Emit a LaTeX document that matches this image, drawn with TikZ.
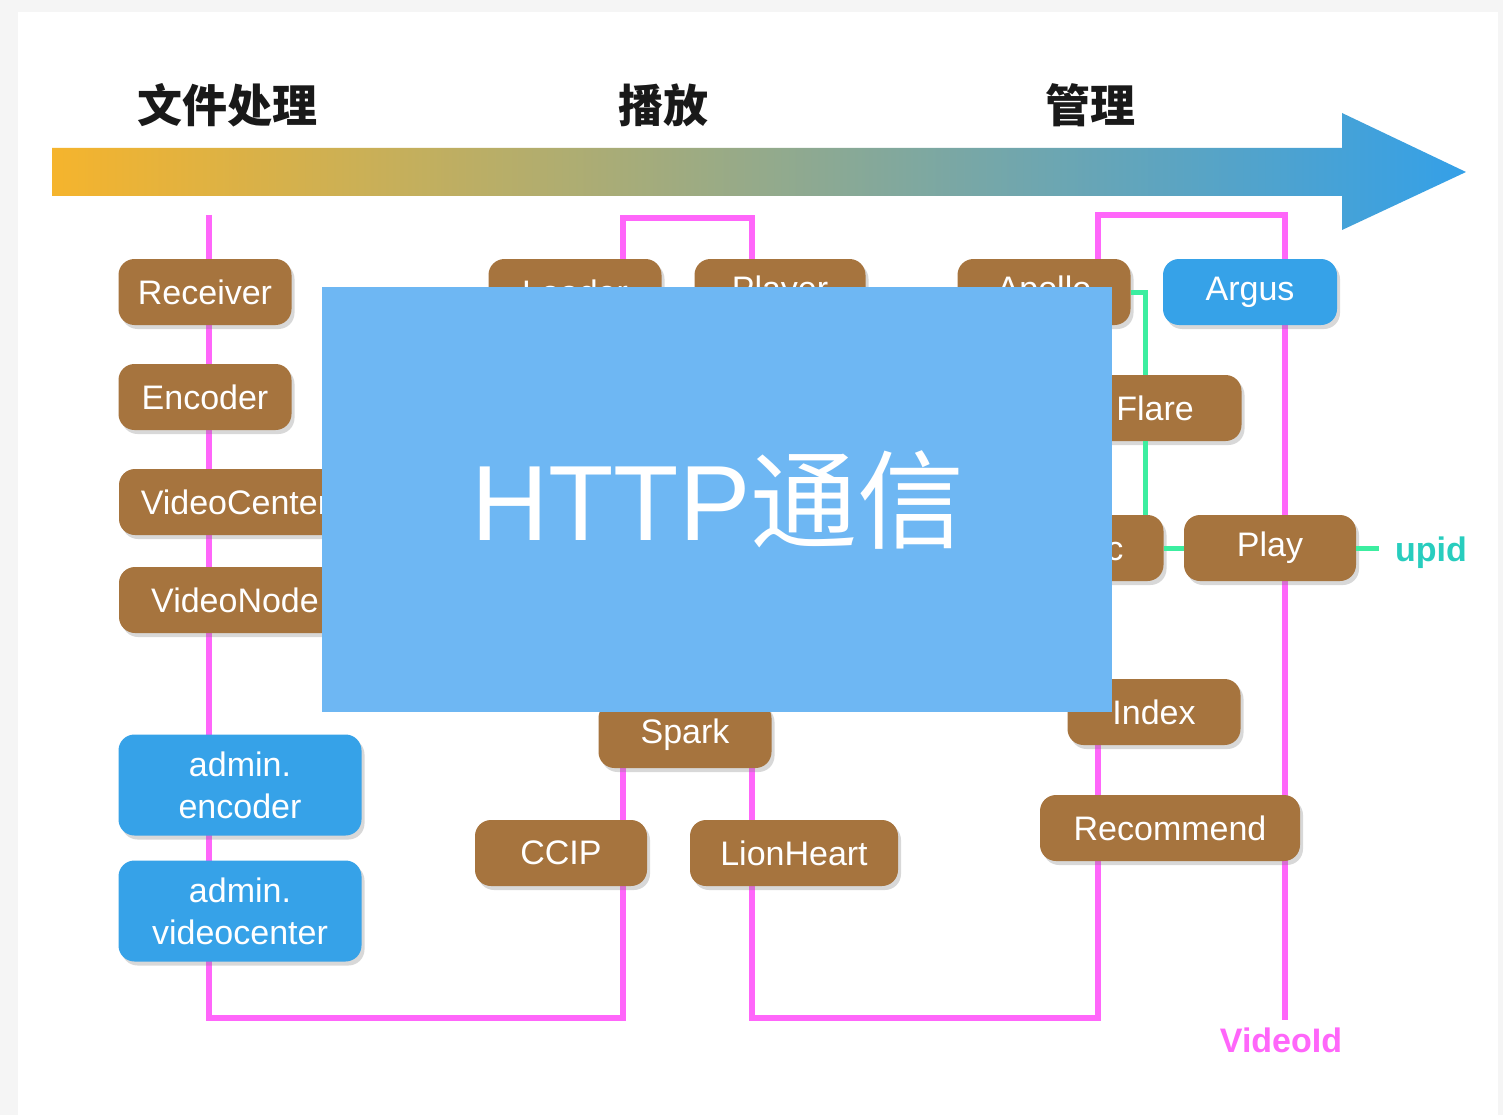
\documentclass[tikz,border=0pt]{standalone}
\usepackage{fontspec}
\setmainfont{Liberation Sans}
\newfontfamily\cjk{Noto Sans CJK SC}
\usetikzlibrary{shadows}
\begin{document}
\begin{tikzpicture}[x=1pt,y=-1pt,
  box/.style={fill=boxbrown, text=white, rounded corners=16pt, minimum height=66pt, inner sep=0pt, align=center, font=\fontsize{34}{42}\selectfont, drop shadow={shadow xshift=3pt, shadow yshift=-4pt, opacity=0.3}},
  bluebox/.style={box, fill=boxblue},
  vline/.style={draw=vidpink, line width=6pt},
  uline/.style={draw=upgreen, line width=5pt},
  title/.style={font=\cjk\bfseries\fontsize{45}{50}\selectfont, text=black!90}]
\definecolor{boxbrown}{RGB}{166,116,62}
\definecolor{boxblue}{RGB}{54,162,232}
\definecolor{ovblue}{RGB}{110,183,243}
\definecolor{vidpink}{RGB}{255,102,250}
\definecolor{upgreen}{RGB}{60,238,160}
\definecolor{upteal}{RGB}{40,205,190}
\definecolor{arrorange}{RGB}{245,180,45}
\definecolor{arrblue}{RGB}{52,160,232}
\fill[black!4] (0,0) rectangle (1503,1115);
\fill[white] (18,12) rectangle (1498,1115);
\node[title] (t1) at (227,105) {文件处理};
\node[title] (t2) at (663,105) {播放};
\node[title] (t3) at (1090,105) {管理};
\shade[left color=arrorange, right color=arrblue] (52,148) -- (1342,148) -- (1342,113) -- (1466,172) -- (1342,230) -- (1342,196) -- (52,196) -- cycle;
\draw[vline] (209,215) -- (209,1018) -- (623,1018) -- (623,218) -- (752,218) -- (752,1018) -- (1098,1018) -- (1098,215) -- (1285,215) -- (1285,1020);
\foreach \n/\x/\y/\w/\t in {receiver/205/292/173/Receiver, encoder/205/397/173/Encoder, videocenter/235/502/232/VideoCenter, videonode/235/600/232/VideoNode, loader/575/292/173/Loader, player/780/292/171/Player, apollo/1044/292/173/Apollo, flare/1155/408/173/Flare, traffic/1077/548/173/Traffic, play/1270/548/172/Play, index/1154/712/173/Index, recommend/1170/828/260/Recommend, spark/685/735/173/Spark, ccip/561/853/172/CCIP, lionheart/794/853/208/LionHeart}
  \node[box, minimum width=\w pt] (\n) at (\x,\y) {\t};
\node[bluebox, minimum width=243pt, minimum height=101pt] (adminenc) at (240,785) {admin.\\encoder};
\node[bluebox, minimum width=243pt, minimum height=101pt] (adminvc) at (240,911) {admin.\\videocenter};
\node[bluebox, minimum width=174pt] (argus) at (1250,292) {Argus};
\coordinate (gx) at (1145,0);
\draw[uline] (apollo.east) -| (flare.north -| gx);
\draw[uline] (flare.south -| gx) -- (traffic.north -| gx);
\draw[uline] (traffic.east) -- (play.west);
\node[text=upteal, font=\bfseries\fontsize{34}{40}\selectfont, inner sep=0pt] (upid) at (1431,553) {upid};
\draw[uline] (play.east) -- ([xshift=-16pt]upid.west |- play.east);
\node[text=vidpink, font=\bfseries\fontsize{34}{40}\selectfont, inner sep=0pt] (videoid) at (1281,1040) {VideoId};
\fill[ovblue] (322,287) rectangle (1112,712);
\node[text=white, anchor=base, inner sep=0pt, font=\fontsize{107}{110}\selectfont] (http) at (718,540) {HTTP{\cjk 通信}};
\end{tikzpicture}
\end{document}
